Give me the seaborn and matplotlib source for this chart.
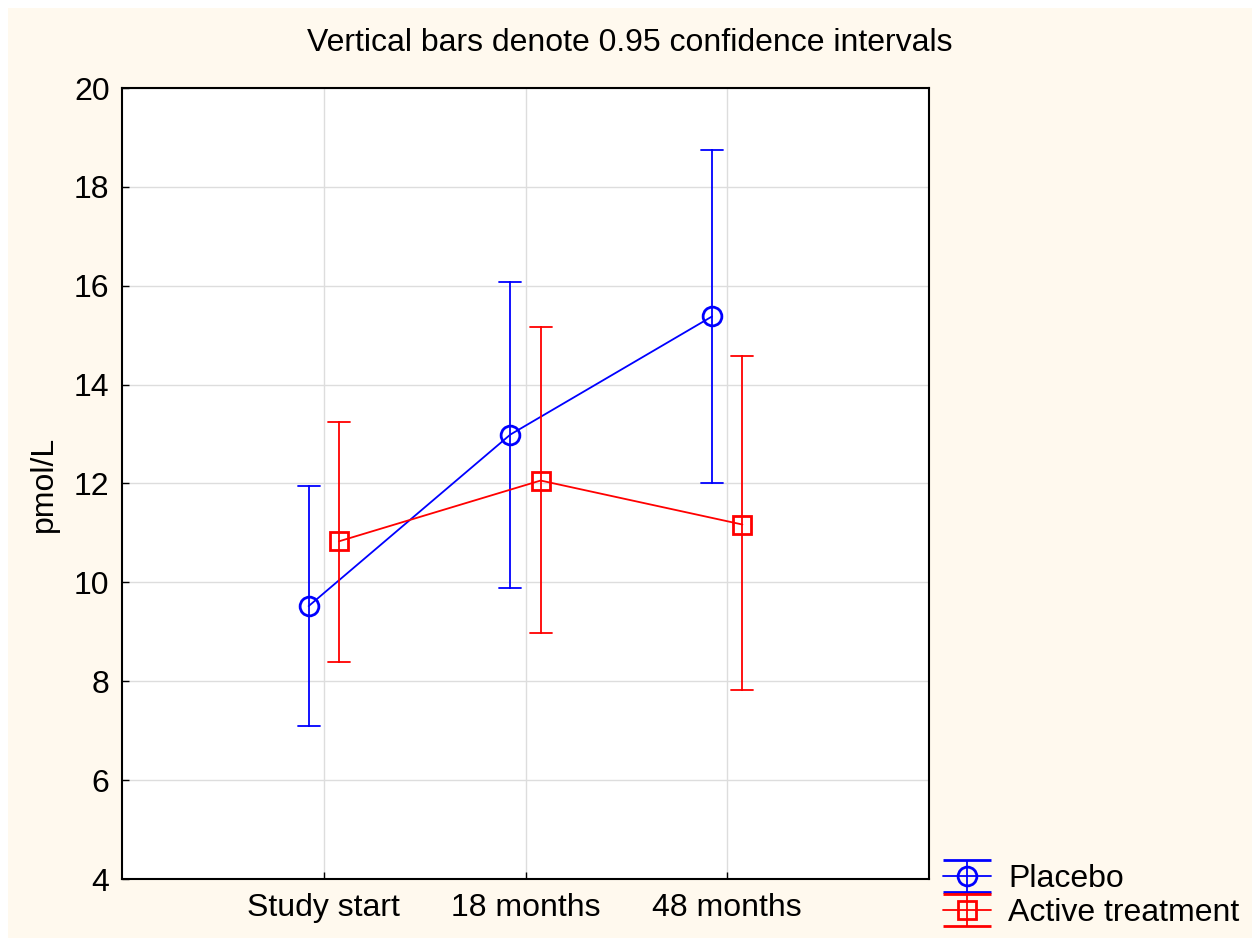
import numpy as np
import pandas as pd
import matplotlib
matplotlib.use("Agg")
import matplotlib.pyplot as plt
from matplotlib.patches import Rectangle
import seaborn as sns

# ---- data ----
timepoints = ["Study start", "18 months", "48 months"]
groups = ["Placebo", "Active treatment"]
placebo_mean = [9.52, 12.99, 15.38]
placebo_lower = [7.09, 9.88, 12.00]
placebo_upper = [11.94, 16.08, 18.75]
active_mean = [10.83, 12.06, 11.17]
active_lower = [8.38, 8.97, 7.82]
active_upper = [13.25, 15.17, 14.57]
yticks = [4, 6, 8, 10, 12, 14, 16, 18, 20]
title = "Vertical bars denote 0.95 confidence intervals"
ylabel = "pmol/L"
colors = {"Placebo": "#0000FF", "Active treatment": "#FF0000"}
markers = ["o", "s"]

# long table: lower, mean, upper per cell -> median = mean, (min, max) = CI
rows = []
for g, m, lo, hi in [("Placebo", placebo_mean, placebo_lower, placebo_upper),
                     ("Active treatment", active_mean, active_lower, active_upper)]:
    for t, a, b, c in zip(timepoints, m, lo, hi):
        for v in (b, a, c):
            rows.append({"Time": t, "Group": g, "value": v})
df = pd.DataFrame(rows)

sns.set_theme(style="whitegrid")
plt.rcParams["font.family"] = ["Liberation Sans", "DejaVu Sans"]

FS = 23
W, H = 1257, 938
fig = plt.figure(figsize=(W / 100, H / 100), dpi=100, facecolor="white")
fig.patches.append(Rectangle((8 / W, 0), (1252 - 8) / W, (H - 8) / H,
                             transform=fig.transFigure, facecolor="#FFF9EE",
                             edgecolor="none", zorder=-10))
ax = fig.add_axes([122 / W, 1 - 879 / H, (929 - 122) / W, (879 - 88) / H])
ax.set_facecolor("white")

sns.pointplot(data=df, x="Time", y="value", hue="Group",
              order=timepoints, hue_order=groups,
              estimator="median", errorbar=lambda v: (v.min(), v.max()),
              dodge=0.15, markers=markers, linestyles=["-", "-"],
              palette=colors, capsize=0.11,
              err_kws={"linewidth": 1.3},
              linewidth=1.3, markersize=13.5, markerfacecolor="none",
              markeredgewidth=2.0, legend=False, ax=ax)

ax.set_xlim(-1, 3)
ax.set_ylim(4, 20)
ax.set_yticks(yticks)
ax.set_yticklabels([str(v) for v in yticks])
ax.grid(True, axis="both", color="#DDDDDD", linewidth=1.0)
ax.set_axisbelow(True)
for s in ax.spines.values():
    s.set_color("black")
    s.set_linewidth(1.5)
ax.tick_params(axis="both", which="both", direction="in", length=5, width=1,
               color="black", labelsize=FS, labelcolor="black",
               left=True, bottom=True)
ax.tick_params(axis="y", pad=9)
ax.tick_params(axis="x", pad=10)
ax.set_xlabel("")
ax.set_ylabel(ylabel, fontsize=FS, color="black")
ax.yaxis.set_label_coords(-0.078, 0.5)

fig.text(0.501, 1 - 43 / H, title, ha="center", va="center", fontsize=FS, color="black")

# legend handles (errorbar style)
handles = []
for g, mk in zip(groups, markers):
    h = ax.errorbar([np.nan], [np.nan], yerr=[[np.nan], [np.nan]], color=colors[g],
                    marker=mk, markersize=13.5, markerfacecolor="none",
                    markeredgewidth=2.0, linewidth=1.3, elinewidth=1.3,
                    capsize=17, capthick=1.3)
    handles.append(h)
fig.legend(handles=handles, labels=groups, loc="center left",
           bbox_to_anchor=(943 / W, 1 - 896 / H), frameon=False, fontsize=FS,
           handlelength=1.5, handletextpad=0.55, labelspacing=0.12,
           borderpad=0, borderaxespad=0, labelcolor="black")

fig.savefig("out.png", dpi=100, facecolor=fig.get_facecolor())
